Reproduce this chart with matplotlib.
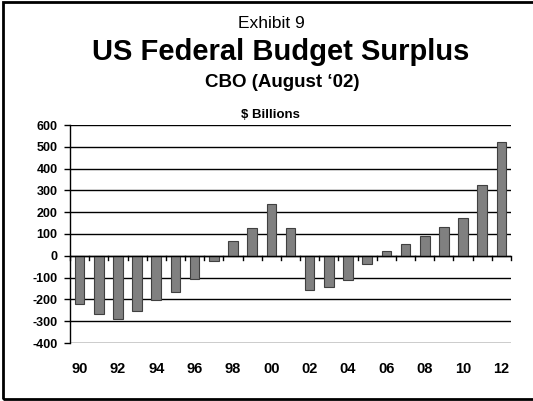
import matplotlib
matplotlib.use("Agg")
import matplotlib.pyplot as plt
import matplotlib.transforms as mtransforms
from matplotlib.patches import Rectangle
import numpy as np

years = list(range(1990, 2013))
surplus = [-221, -269, -290, -255, -203, -164, -107, -22, 69, 126, 236, 127,
           -157, -145, -111, -36, 20, 55, 90, 133, 175, 325, 521]
tick_labels = ["90", "92", "94", "96", "98", "00", "02", "04", "06", "08", "10", "12"]
y_ticks = list(range(-400, 601, 100))

plt.rcParams['font.family'] = ['Liberation Sans', 'DejaVu Sans']

W, H = 533, 401
fig = plt.figure(figsize=(W / 100, H / 100), dpi=100)
ax = fig.add_axes([70 / W, 1 - 343 / H, 441 / W, 218 / H])

x = np.arange(len(years))
ax.bar(x, surplus, width=0.5, color="#808080", edgecolor="#404040", linewidth=0.8, zorder=3)

ax.set_xlim(-0.5, len(years) - 0.5)
ax.set_ylim(-400, 600)
ax.set_yticks(y_ticks)
ax.set_yticklabels([str(v) for v in y_ticks], fontsize=9, fontweight="bold")
for v in y_ticks:
    ax.axhline(v, color="black", linewidth=1.0, zorder=1)
ax.axhline(0, color="black", linewidth=1.0, zorder=4)

for s in ["top", "right", "bottom"]:
    ax.spines[s].set_visible(False)
ax.spines["left"].set_linewidth(1.0)
ax.tick_params(axis="y", length=4, width=1.0, pad=5)

# category boundary ticks at zero line
ax.set_xticks([])
for b in np.arange(-0.5, len(years)):
    ax.plot([b, b], [0, -18], color="black", linewidth=1.0, zorder=4, clip_on=False)

# x labels every 2 years below axis
trans = mtransforms.blended_transform_factory(ax.transData, fig.transFigure)
for i, lab in zip(range(0, len(years), 2), tick_labels):
    ax.text(i, 1 - 369 / H, lab, ha="center", va="center", fontsize=10.5,
            fontweight="bold", transform=trans)

fig.text(271 / W, 1 - 28 / H, "Exhibit 9", ha="center", va="baseline", fontsize=12.5)
fig.text(281 / W, 1 - 60 / H, "US Federal Budget Surplus", ha="center", va="baseline",
         fontsize=21, fontweight="bold")
fig.text(282 / W, 1 - 87 / H, "CBO (August \u201802)", ha="center", va="baseline",
         fontsize=13.5, fontweight="bold")
fig.text(270 / W, 1 - 118 / H, "$ Billions", ha="center", va="baseline",
         fontsize=9.5, fontweight="bold")

fig.patches.append(Rectangle((0.0055, 0.006), 1.1, 0.988, transform=fig.transFigure,
                             fill=False, edgecolor="black", linewidth=2.0))

fig.savefig("out.png", dpi=100)
